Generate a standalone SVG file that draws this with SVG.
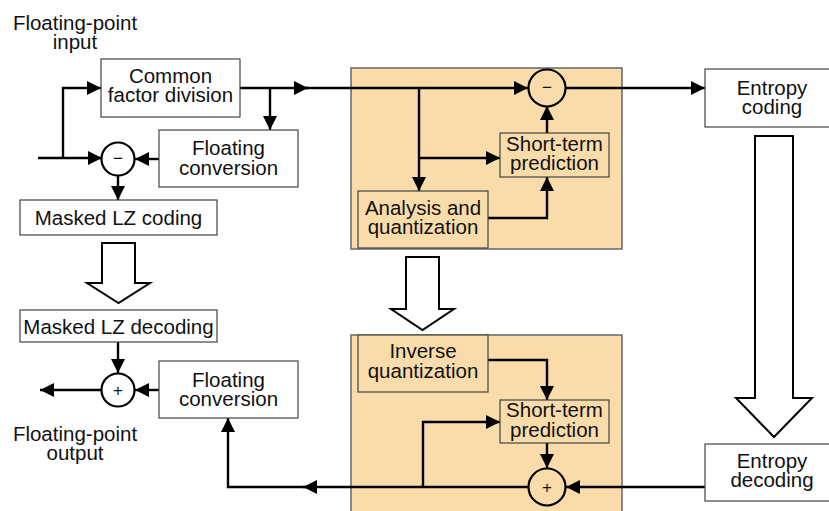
<svg xmlns="http://www.w3.org/2000/svg" width="829" height="511" viewBox="0 0 829 511">
  <defs>
    <marker id="ah" markerUnits="userSpaceOnUse" markerWidth="14" markerHeight="14" refX="14" refY="7" orient="auto">
      <path d="M0,0 L14,7 L0,14 z" fill="#000"/>
    </marker>
    <style>
      text { font-family: "Liberation Sans", Arial, sans-serif; font-size: 20.5px; fill: #111; text-anchor: middle; }
      .box { fill: #fff; stroke: #444; stroke-width: 1.2; }
      .pbox { fill: #fadcab; stroke: #444; stroke-width: 1.2; }
      .panel { fill: #fadcab; stroke: #6e6e6e; stroke-width: 1.6; }
      .op { fill: #fff; stroke: #000; stroke-width: 2.2; }
      .opp { fill: #fadcab; stroke: #000; stroke-width: 2.2; }
      .sign { font-size: 17px; }
      .wire { fill: none; stroke: #000; stroke-width: 2.4; }
      .arr { marker-end: url(#ah); }
      .hollow { fill: #fff; stroke: #000; stroke-width: 2; stroke-linejoin: miter; }
    </style>
  </defs>

  <rect width="829" height="511" fill="#fff"/>

  <!-- coder and decoder panels -->
  <g id="encoder-panel"><rect class="panel" x="351" y="68" width="271" height="181"/></g>
  <g id="decoder-panel"><rect class="panel" x="351" y="335" width="271" height="185"/></g>

  <!-- large hollow flow arrows -->
  <g id="flow-arrows">
    <path class="hollow" d="M102,243 L135,243 L135,283 L150,283 L118.5,303 L87,283 L102,283 z"/>
    <path class="hollow" d="M406,257 L439,257 L439,309 L454,309 L422.5,330 L391,309 L406,309 z"/>
    <path class="hollow" d="M755,136 L793,136 L793,398 L812,398 L774,437 L736,398 L755,398 z"/>
  </g>

  <!-- connectors -->
  <g id="connectors">
    <path class="wire arr" d="M38,158 L102,158"/>
    <path class="wire arr" d="M63,158 L63,88 L101,88"/>
    <path class="wire arr" d="M240,88 L308,88"/>
    <path class="wire arr" d="M306,88 L528,88"/>
    <path class="wire arr" d="M270,88 L270,130"/>
    <path class="wire arr" d="M159,159 L135,159"/>
    <path class="wire arr" d="M118,175 L118,200"/>
    <path class="wire arr" d="M419,88 L419,191"/>
    <path class="wire arr" d="M419,158 L500,158"/>
    <path class="wire arr" d="M488,218 L547,218 L547,177"/>
    <path class="wire arr" d="M547,133 L547,106"/>
    <path class="wire arr" d="M565,88 L705,88"/>
    <path class="wire arr" d="M118,342 L118,373"/>
    <path class="wire arr" d="M159,390 L135,390"/>
    <path class="wire arr" d="M102,390 L40,390"/>
    <path class="wire arr" d="M705,487 L566,487"/>
    <path class="wire arr" d="M528,487 L303,487"/>
    <path class="wire arr" d="M305,487 L228,487 L228,418"/>
    <path class="wire arr" d="M423,487 L423,422 L500,422"/>
    <path class="wire arr" d="M488,360 L547,360 L547,400"/>
    <path class="wire arr" d="M547,443 L547,468"/>
  </g>

  <!-- free labels -->
  <g id="input-label">
    <text x="75" y="30">Floating-point</text>
    <text x="75" y="49">input</text>
  </g>
  <g id="output-label">
    <text x="75" y="441">Floating-point</text>
    <text x="75" y="460">output</text>
  </g>

  <!-- encoder side -->
  <g id="common-factor-division">
    <rect class="box" x="101" y="59" width="139" height="58"/>
    <text x="170.5" y="83">Common</text>
    <text x="170.5" y="102">factor division</text>
  </g>
  <g id="floating-conversion-enc">
    <rect class="box" x="159" y="130" width="139" height="57"/>
    <text x="228.5" y="155">Floating</text>
    <text x="228.5" y="175">conversion</text>
  </g>
  <g id="subtract-enc">
    <circle class="op" cx="118" cy="159" r="16.5"/>
    <text class="sign" x="118" y="164">−</text>
  </g>
  <g id="masked-lz-coding">
    <rect class="box" x="20" y="200" width="197" height="35"/>
    <text x="118.5" y="225">Masked LZ coding</text>
  </g>
  <g id="subtract-pred">
    <circle class="opp" cx="547" cy="88" r="18.5"/>
    <text class="sign" x="547" y="93">−</text>
  </g>
  <g id="short-term-prediction-enc">
    <rect class="pbox" x="500" y="133" width="109" height="44"/>
    <text x="554.5" y="151">Short-term</text>
    <text x="554.5" y="170">prediction</text>
  </g>
  <g id="analysis-quantization">
    <rect class="pbox" x="358" y="191" width="130" height="57"/>
    <text x="423" y="215">Analysis and</text>
    <text x="423" y="234">quantization</text>
  </g>
  <g id="entropy-coding">
    <rect class="box" x="705" y="69" width="140" height="58"/>
    <text x="772" y="95">Entropy</text>
    <text x="772" y="114">coding</text>
  </g>

  <!-- decoder side -->
  <g id="entropy-decoding">
    <rect class="box" x="705" y="444" width="140" height="57"/>
    <text x="772" y="468">Entropy</text>
    <text x="772" y="487">decoding</text>
  </g>
  <g id="inverse-quantization">
    <rect class="pbox" x="358" y="335" width="130" height="57"/>
    <text x="423" y="358">Inverse</text>
    <text x="423" y="378">quantization</text>
  </g>
  <g id="short-term-prediction-dec">
    <rect class="pbox" x="500" y="400" width="109" height="43"/>
    <text x="554.5" y="417">Short-term</text>
    <text x="554.5" y="437">prediction</text>
  </g>
  <g id="add-pred">
    <circle class="opp" cx="547" cy="487" r="18.5"/>
    <text class="sign" x="547" y="493">+</text>
  </g>
  <g id="masked-lz-decoding">
    <rect class="box" x="20" y="310" width="197" height="32"/>
    <text x="118.5" y="334">Masked LZ decoding</text>
  </g>
  <g id="floating-conversion-dec">
    <rect class="box" x="159" y="361" width="139" height="57"/>
    <text x="228.5" y="387">Floating</text>
    <text x="228.5" y="406">conversion</text>
  </g>
  <g id="add-dec">
    <circle class="op" cx="118" cy="390" r="16.5"/>
    <text class="sign" x="118" y="396">+</text>
  </g>
</svg>
